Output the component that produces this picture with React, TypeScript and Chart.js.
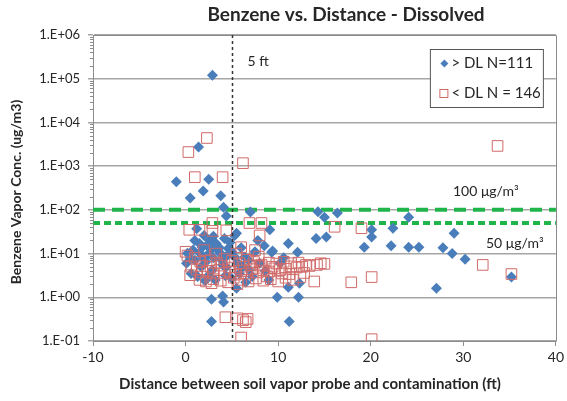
import React, { useEffect, useRef } from 'react';
import { Chart, registerables } from 'chart.js';
Chart.register(...registerables);

const chartTitle = 'Benzene vs. Distance - Dissolved';
const xTitle = 'Distance between soil vapor probe and contamination (ft)';
const yTitle = 'Benzene Vapor Conc. (ug/m3)';
const xTickValues = [-10, 0, 10, 20, 30, 40];
const yTickValues = [0.1, 1, 10, 100, 1000, 10000, 100000, 1000000];
const legendLabels = ['> DL N=111', '< DL N = 146'];
const thresholdValues = [100, 50];
const thresholdLabels = ['100 μg/m³', '50 μg/m³'];
const refDistance = 5;
const refLabel = '5 ft';

// > DL (detected) points: [distance ft, concentration ug/m3]
const aboveDL: [number, number][] = [
  [2.9, 120000], [1.4, 2750], [-1.0, 440], [2.5, 500], [1.9, 270], [0.5, 186], [3.8, 210], [4.1, 115],
  [7.0, 89], [4.4, 72], [9.1, 35], [5.3, 26], [1.2, 37], [2.0, 26],
  [14.3, 90], [15.0, 68], [16.4, 85], [14.1, 22], [15.2, 24], [20.1, 35], [20.1, 24], [19.3, 14],
  [22.4, 38], [22.2, 15], [24.1, 68], [24.1, 14], [25.2, 14], [27.8, 13.5], [28.8, 10], [29.0, 29],
  [30.2, 7.4], [27.1, 1.6], [35.2, 2.9],
  [11.1, 17], [12.1, 10.7], [9.4, 11.5], [10.6, 8], [9.3, 10.7], [11.1, 1.7], [12.3, 2.1], [9.9, 1.0],
  [12.2, 1.0], [11.2, 0.28],
  [2.8, 0.9], [4.0, 1.07], [4.1, 0.78], [2.8, 0.28], [5.5, 1.6],
  [0.2, 10.2], [0.1, 6.0], [0.6, 3.5], [1.5, 10.5], [1.8, 14], [2.3, 15.5], [3.3, 17], [3.7, 10.5],
  [5.5, 29], [5.3, 8.3], [6.0, 13.5], [6.4, 8.3], [2.1, 2.4], [2.9, 4.2], [1.7, 4.9], [4.4, 4.9], [5.0, 2.7],
  [1.0, 7], [2.2, 6.5], [3.0, 8], [3.5, 12], [4.5, 9], [6.8, 7], [7.5, 11], [8.0, 6], [8.6, 4], [7.2, 3],
  [6.5, 2.2], [1.3, 3], [0.8, 12], [2.6, 20], [4.8, 18], [7.8, 20], [8.5, 15], [6.2, 5], [3.2, 2.5],
  [10.2, 6], [5.8, 3.5], [9.0, 2.5], [2.4, 9.5], [4.0, 5.5],
  [1.0, 20], [3.0, 25], [4.2, 22], [3.6, 14], [5.0, 11], [1.5, 17], [2.8, 12.5], [4.6, 13], [0.5, 8], [1.9, 8],
  [3.9, 7], [2.5, 3.2], [6.9, 4.2], [5.6, 6.2], [4.3, 3.1],
];

// < DL (non-detect) points: [distance ft, concentration ug/m3]
const belowDL: [number, number][] = [
  [2.3, 4400], [0.3, 2100], [6.2, 1170], [1.0, 560], [4.0, 560], [33.7, 2900],
  [2.9, 50], [0.4, 35], [1.5, 35], [2.9, 33], [4.4, 34], [6.9, 50], [8.2, 50], [8.0, 26],
  [16.1, 41], [19.0, 38], [32.1, 5.5], [35.2, 3.4], [20.1, 2.9], [17.9, 2.2], [13.9, 2.3], [20.1, 0.11],
  [4.3, 0.35], [6.2, 0.3], [6.7, 0.32], [6.0, 0.12], [6.5, 0.27], [5.6, 0.33],
  [15.0, 5.8], [14.2, 5.5], [13.4, 5.2], [12.6, 5], [12.0, 4.8], [11.4, 5.1], [10.8, 4.5], [10.2, 4.2],
  [9.6, 4.6], [9.0, 3.9], [8.4, 4.1], [7.8, 3.7], [7.2, 4.4], [6.6, 3.5], [6.0, 4], [5.4, 3.3], [4.8, 3.8],
  [4.2, 3.6], [3.6, 4.2], [3.0, 3.5], [2.4, 4], [1.8, 3.7], [1.2, 4.3], [0.6, 5],
  [1.5, 2.5], [2.2, 2.3], [3.0, 2.6], [3.8, 2.4], [4.6, 2.2], [5.2, 2.8], [6.0, 2.5], [6.8, 2.3], [7.6, 2.7],
  [8.4, 2.4], [9.2, 2.6], [10.0, 2.3], [10.8, 2.8], [11.6, 2.5], [12.4, 2.9], [8.8, 3.0], [2.8, 2.1], [5.6, 2.0],
  [0.2, 9], [1.0, 8], [1.6, 6.5], [2.6, 7], [3.4, 6.2], [4.2, 7.5], [5.0, 6.8], [5.8, 6.0], [6.6, 7.2],
  [7.4, 6.4], [8.2, 5.6], [9.0, 6.2], [9.8, 5.9], [10.6, 6.5], [11.4, 6.0], [12.2, 6.2], [13.0, 5.5], [14.6, 6.0],
  [0.5, 3.2], [1.8, 5.2], [2.7, 5.0], [3.9, 5.3], [4.7, 4.8], [6.3, 5.0], [7.0, 5.4], [8.0, 5.3], [9.4, 5.0],
  [10.4, 3.5], [11.2, 3.4], [12.8, 3.6], [3.3, 10], [5.5, 10], [6.0, 14], [7.5, 12], [0.0, 11], [7.9, 8.5], [2.0, 12],
];

const BLUE = '#4a7ebb';
const RED = '#d06a68';
const GREEN = '#1fb54a';
const AXIS = '#8c8c8c';
const TEXT = '#262626';
const FONT = 'Lato';

function fmtExp(v: number) {
  const e = Math.round(Math.log10(v));
  return '1.E' + (e < 0 ? '-' : '+') + String(Math.abs(e)).padStart(2, '0');
}

const overlay = {
  id: 'overlay',
  beforeDatasetsDraw(chart: any) {
    const { ctx, chartArea: a, scales } = chart;
    const y = scales.y;
    ctx.save();
    ctx.strokeStyle = GREEN;
    ctx.lineWidth = 4;
    thresholdValues.forEach((v, i) => {
      ctx.setLineDash(i === 0 ? [12, 7] : [7, 4]);
      const py = y.getPixelForValue(v);
      ctx.beginPath();
      ctx.moveTo(a.left, py);
      ctx.lineTo(a.right, py);
      ctx.stroke();
    });
    ctx.restore();
  },
  afterDatasetsDraw(chart: any) {
    const { ctx, chartArea: a, scales } = chart;
    const x = scales.x;
    const y = scales.y;
    ctx.save();
    ctx.strokeStyle = AXIS;
    ctx.lineWidth = 1;
    ctx.beginPath();
    ctx.moveTo(Math.round(a.left) + 0.5, Math.round(a.top) + 0.5);
    ctx.lineTo(Math.round(a.right) + 0.5, Math.round(a.top) + 0.5);
    ctx.lineTo(Math.round(a.right) + 0.5, Math.round(a.bottom) + 0.5);
    ctx.stroke();
    for (let d = -1; d < 6; d++) {
      for (let m = 2; m < 10; m++) {
        const py = Math.round(y.getPixelForValue(m * Math.pow(10, d))) + 0.5;
        ctx.beginPath();
        ctx.moveTo(a.left - 3, py);
        ctx.lineTo(a.left + 1, py);
        ctx.stroke();
      }
    }
    const vx = Math.round(x.getPixelForValue(refDistance)) + 0.5;
    ctx.strokeStyle = '#333';
    ctx.lineWidth = 1.5;
    ctx.setLineDash([3, 3]);
    ctx.beginPath();
    ctx.moveTo(vx, a.top);
    ctx.lineTo(vx, a.bottom);
    ctx.stroke();
    ctx.setLineDash([]);

    ctx.fillStyle = TEXT;
    ctx.textBaseline = 'middle';
    ctx.font = `14px ${FONT}`;
    ctx.textAlign = 'left';
    ctx.fillText(refLabel, vx + 15, a.top + 26);
    ctx.fillText(thresholdLabels[0], 453, y.getPixelForValue(thresholdValues[0]) - 18);
    ctx.fillText(thresholdLabels[1], 486, y.getPixelForValue(thresholdValues[1]) + 20);

    const lx = a.right - 125.5, ly = a.top + 14.5;
    ctx.fillStyle = '#fff';
    ctx.fillRect(lx, ly, 113, 58);
    ctx.strokeStyle = '#555';
    ctx.lineWidth = 1;
    ctx.strokeRect(lx, ly, 113, 58);
    const dx = lx + 14, dy = ly + 14;
    ctx.fillStyle = BLUE;
    ctx.beginPath();
    ctx.moveTo(dx, dy - 4); ctx.lineTo(dx + 4, dy); ctx.lineTo(dx, dy + 4); ctx.lineTo(dx - 4, dy);
    ctx.closePath(); ctx.fill();
    ctx.strokeStyle = RED;
    ctx.strokeRect(lx + 9.5, ly + 40, 8, 8);
    ctx.fillStyle = TEXT;
    ctx.font = `15px ${FONT}`;
    ctx.fillText(legendLabels[0], lx + 21, dy);
    ctx.fillText(legendLabels[1], lx + 21, ly + 44);

    ctx.textAlign = 'center';
    ctx.font = `bold 19px ${FONT}`;
    ctx.fillText(chartTitle, 346, 15);
    ctx.font = `bold 15px ${FONT}`;
    ctx.fillText(xTitle, 310, 384);
    ctx.translate(16, 192);
    ctx.rotate(-Math.PI / 2);
    ctx.font = `bold 14px ${FONT}`;
    ctx.fillText(yTitle, 0, 0);
    ctx.restore();
  },
};

export default function App() {
  const ref = useRef<HTMLCanvasElement>(null);
  useEffect(() => {
    document.body.style.margin = '0';
    const chart = new Chart(ref.current!, {
      type: 'scatter',
      data: {
        datasets: [
          {
            label: legendLabels[0],
            data: aboveDL.map(([px, py]) => ({ x: px, y: py })),
            pointStyle: 'rectRot',
            pointRadius: 5.5,
            backgroundColor: BLUE,
            borderColor: BLUE,
            borderWidth: 0,
            order: 2,
          },
          {
            label: legendLabels[1],
            data: belowDL.map(([px, py]) => ({ x: px, y: py })),
            pointStyle: 'rect',
            pointRadius: 7.5,
            backgroundColor: 'rgba(0,0,0,0)',
            borderColor: RED,
            borderWidth: 1,
            order: 1,
          },
        ],
      },
      options: {
        responsive: false,
        animation: false,
        layout: { padding: { top: 35, right: 10, left: 0, bottom: 0 } },
        plugins: { legend: { display: false }, title: { display: false }, tooltip: { enabled: false } },
        scales: {
          x: {
            type: 'linear',
            min: -10,
            max: 40,
            afterBuildTicks: (s: any) => { s.ticks = xTickValues.map((v) => ({ value: v })); },
            afterFit: (s: any) => { s.height = 60; },
            ticks: { color: TEXT, font: { family: FONT, size: 14 }, padding: 3, callback: (v: any) => String(v) },
            grid: { drawOnChartArea: false, drawTicks: true, tickLength: 5, color: AXIS },
            border: { display: true, color: AXIS },
          },
          y: {
            type: 'logarithmic',
            min: 0.1,
            max: 1000000,
            afterBuildTicks: (s: any) => { s.ticks = yTickValues.map((v) => ({ value: v, major: true })); },
            afterFit: (s: any) => { s.width = 93; },
            ticks: { color: TEXT, font: { family: FONT, size: 13 }, padding: 8, callback: (v: any) => fmtExp(Number(v)) },
            grid: { color: '#a6a6a6', drawTicks: true, tickLength: 5, lineWidth: 1.5 },
            border: { display: true, color: AXIS },
          },
        },
      },
      plugins: [overlay],
    });
    return () => chart.destroy();
  }, []);
  return (
    <div style={{ width: 567, height: 401 }}>
      <canvas ref={ref} width={567} height={401} />
    </div>
  );
}
